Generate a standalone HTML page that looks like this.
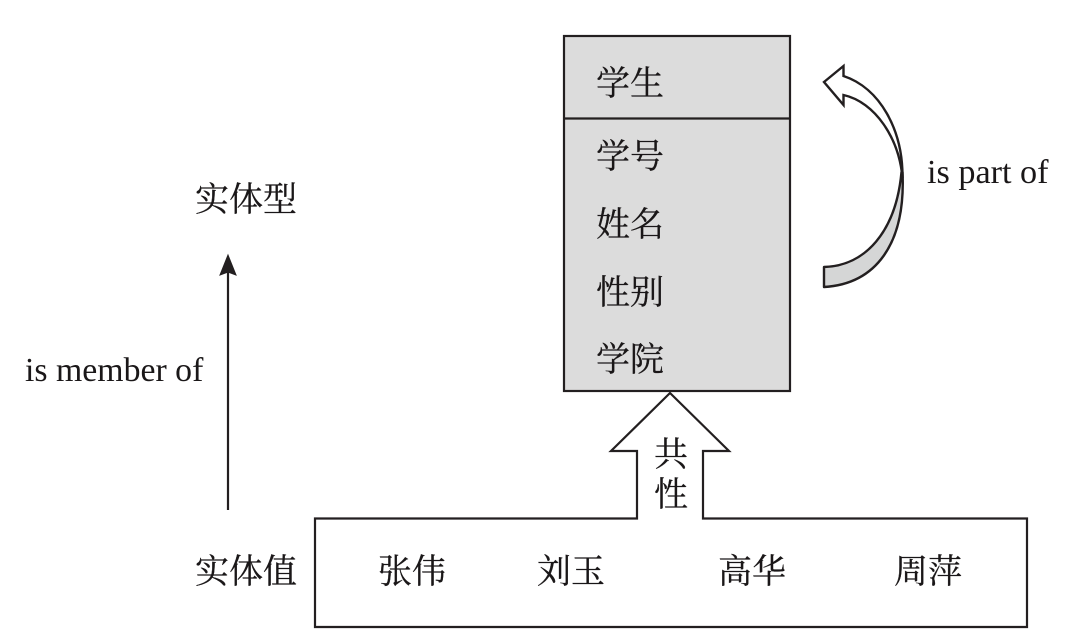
<!DOCTYPE html>
<html>
<head>
<meta charset="utf-8">
<style>
html,body{margin:0;padding:0;background:#fff;}
svg{display:block;}
text{font-family:"Liberation Serif","Noto Serif CJK SC",serif;fill:#1a1718;}
.c{font-size:34px;stroke:#1a1718;stroke-width:0.25px;}
.e{font-size:34.2px;}
</style>
</head>
<body>
<svg width="1076" height="641" viewBox="0 0 1076 641" xmlns="http://www.w3.org/2000/svg">
<rect x="564" y="36" width="226" height="355" fill="#dcdcdc" stroke="#231f20" stroke-width="2.2"/>
<line x1="564" y1="118.500" x2="790" y2="118.500" stroke="#231f20" stroke-width="2.2"/>
<text class="c" x="596" y="95">学生</text>
<text class="c" x="596" y="168">学号</text>
<text class="c" x="596" y="236">姓名</text>
<text class="c" x="596" y="304">性别</text>
<text class="c" x="596" y="371">学院</text>

<path d="M315 518.500 H637 V451 H611 L670 393 L729 451 H703 V518.500 H1027 V627 H315 Z" fill="#fff" stroke="#231f20" stroke-width="2.2"/>
<text class="c" x="654" y="466">共</text>
<text class="c" x="654" y="506">性</text>

<text class="c" x="195" y="211">实体型</text>
<text class="c" x="195" y="583">实体值</text>
<text class="c" x="378" y="583">张伟</text>
<text class="c" x="537" y="583">刘玉</text>
<text class="c" x="718" y="583">高华</text>
<text class="c" x="894" y="583">周萍</text>

<line x1="228" y1="510" x2="228" y2="270" stroke="#231f20" stroke-width="2.2"/>
<path d="M228 255 L236 275 L228 272 L220 275 Z" fill="#231f20" stroke="#231f20" stroke-width="1"/>
<text class="e" x="25" y="381" style="font-size:33.8px">is member of</text>
<text class="e" x="927" y="183">is part of</text>

<path d="M824 267 C865 266 896 232 901.500 172 L902.500 172 C906 245 875 284 824 287 Z" fill="#d5d6d6" stroke="#231f20" stroke-width="2.4" stroke-linejoin="round"/>
<path d="M824 82 L843.500 66 V76 C880 88 903 130 902.500 178 C899 138 875 102 843.500 95 V105 Z" fill="#fff" stroke="#231f20" stroke-width="2.4" stroke-linejoin="miter"/>
</svg>
</body>
</html>
